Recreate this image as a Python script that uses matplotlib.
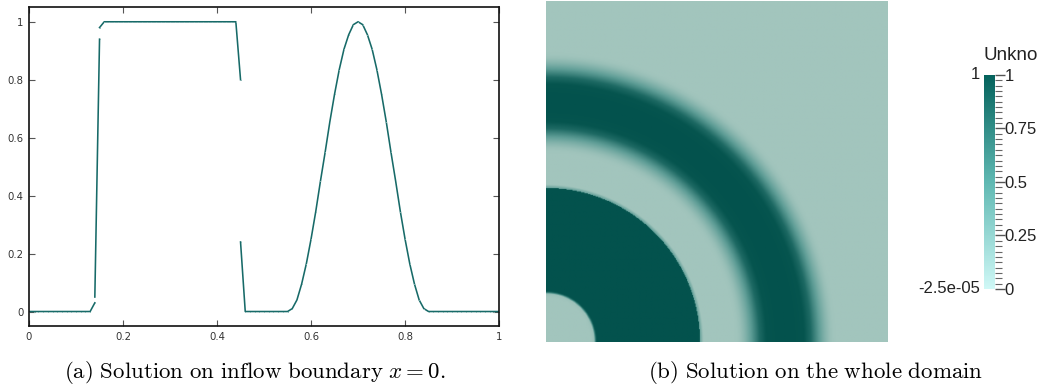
import numpy as np
import matplotlib
matplotlib.use("Agg")
import matplotlib.pyplot as plt
from matplotlib.colors import LinearSegmentedColormap, Normalize
from matplotlib.cm import ScalarMappable
from matplotlib.ticker import MultipleLocator

plt.rcParams["mathtext.fontset"] = "cm"

# Solution u(y) on the inflow boundary x = 0 (NaN separates discontinuous pieces)
y_coord = [0.00, 0.01, 0.02, 0.03, 0.04, 0.05, 0.06, 0.07, 0.08, 0.09, 0.10,
           0.11, 0.12, 0.13, 0.14, np.nan,
           0.14, 0.15, np.nan,
           0.15, 0.16, 0.17, 0.18, 0.19, 0.20, 0.21, 0.22, 0.23, 0.24, 0.25,
           0.26, 0.27, 0.28, 0.29, 0.30, 0.31, 0.32, 0.33, 0.34, 0.35, 0.36,
           0.37, 0.38, 0.39, 0.40, 0.41, 0.42, 0.43, 0.44, 0.45, np.nan,
           0.45, 0.46, 0.47, 0.48, 0.49, 0.50, 0.51, 0.52, 0.53, 0.54, 0.55,
           0.56, 0.57, 0.58, 0.59, 0.60, 0.61, 0.62, 0.63, 0.64, 0.65, 0.66,
           0.67, 0.68, 0.69, 0.70, 0.71, 0.72, 0.73, 0.74, 0.75, 0.76, 0.77,
           0.78, 0.79, 0.80, 0.81, 0.82, 0.83, 0.84, 0.85, 0.86, 0.87, 0.88,
           0.89, 0.90, 0.91, 0.92, 0.93, 0.94, 0.95, 0.96, 0.97, 0.98, 0.99,
           1.00]
u_vals = [0.0, 0.0, 0.0, 0.0, 0.0, 0.0, 0.0, 0.0, 0.0, 0.0, 0.0,
          0.0, 0.0, 0.0, 0.03, np.nan,
          0.05, 0.94, np.nan,
          0.98, 1.0, 1.0, 1.0, 1.0, 1.0, 1.0, 1.0, 1.0, 1.0, 1.0,
          1.0, 1.0, 1.0, 1.0, 1.0, 1.0, 1.0, 1.0, 1.0, 1.0, 1.0,
          1.0, 1.0, 1.0, 1.0, 1.0, 1.0, 1.0, 1.0, 0.80, np.nan,
          0.24, 0.0, 0.0, 0.0, 0.0, 0.0, 0.0, 0.0, 0.0, 0.0, 0.0,
          0.01, 0.04, 0.095, 0.165, 0.25, 0.345, 0.45, 0.55, 0.655, 0.75, 0.835,
          0.905, 0.955, 0.99, 1.0, 0.99, 0.955, 0.905, 0.835, 0.75, 0.655, 0.55,
          0.45, 0.345, 0.25, 0.165, 0.095, 0.04, 0.01, 0.0, 0.0, 0.0, 0.0,
          0.0, 0.0, 0.0, 0.0, 0.0, 0.0, 0.0, 0.0, 0.0, 0.0, 0.0,
          0.0]

x_ticks = [0, 0.2, 0.4, 0.6, 0.8, 1]
y_ticks = [0, 0.2, 0.4, 0.6, 0.8, 1]
tick_labels = ["0", "0.2", "0.4", "0.6", "0.8", "1"]
cbar_ticks = [0, 0.25, 0.5, 0.75, 1]
cbar_labels = ["0", "0.25", "0.5", "0.75", "1"]
range_min_label = "-2.5e-05"
range_max_label = "1"
field_name = "Unkno"

line_color = "#176a68"

fig = plt.figure(figsize=(10.48, 3.90), dpi=100)

# ---- (a) line plot on the boundary ----
ax = fig.add_axes([0.0277, 0.1641, 0.4485, 0.8172])
ax.plot(y_coord, u_vals, color=line_color, lw=1.15, marker=".", ms=1.5,
        mfc="#84b4b1", mec="none")
ax.set_xlim(0, 1)
ax.set_ylim(-0.05, 1.05)
ax.set_xticks(x_ticks)
ax.set_xticklabels(tick_labels)
ax.set_yticks(y_ticks)
ax.set_yticklabels(tick_labels)
ax.tick_params(direction="in", top=True, right=True, length=4, width=0.8,
               labelsize=7.3, labelcolor="#333333", color="#555555", pad=4)
for s in ax.spines.values():
    s.set_linewidth(1.2)
    s.set_color("#111111")

fig.text(0.243, 0.045,
         r"$\mathrm{(a)\ Solution\ on\ inflow\ boundary}\ x = 0.$",
         ha="center", va="center", fontsize=16.5)

# ---- (b) whole domain: radial field u(r), r = sqrt(x^2 + y^2) ----
valid = ~np.isnan(np.array(y_coord))
r_prof = np.array(y_coord)[valid]
u_prof = np.array(u_vals)[valid]
n = 400
gx, gy = np.meshgrid(np.linspace(0, 1, n), np.linspace(0, 1, n))
rr = np.sqrt(gx ** 2 + gy ** 2)
field = np.interp(rr, r_prof, u_prof, right=0.0)

img_cmap = LinearSegmentedColormap.from_list(
    "shaded", [(0.0, "#a2c5bd"), (0.25, "#5e9d96"), (0.5, "#1d6963"),
               (0.7, "#06554f"), (1.0, "#03524d")])
axi = fig.add_axes([0.521, 0.1231, 0.3254, 0.8744])
axi.imshow(field, origin="lower", extent=[0, 1, 0, 1], cmap=img_cmap,
           vmin=0, vmax=1, interpolation="bilinear", aspect="auto")
axi.set_axis_off()

fig.text(0.778, 0.045, r"$\mathrm{(b)\ Solution\ on\ the\ whole\ domain}$",
         ha="center", va="center", fontsize=16.5)

# ---- colour bar ----
bar_cmap = LinearSegmentedColormap.from_list("bar", ["#cff8f6", "#5fb8b2", "#04625c"])
cax = fig.add_axes([0.9389, 0.259, 0.0105, 0.549])
cb = fig.colorbar(ScalarMappable(norm=Normalize(0, 1), cmap=bar_cmap), cax=cax)
cb.outline.set_visible(False)
cb.set_ticks(cbar_ticks)
cb.set_ticklabels(cbar_labels)
cax.yaxis.set_minor_locator(MultipleLocator(0.025))
cax.tick_params(which="major", length=7, width=1.0, color="#555555",
                labelsize=12, pad=0)
cax.tick_params(which="minor", length=5, width=0.8, color="#666666")
for lab in cax.get_yticklabels():
    lab.set_family("Liberation Sans")
    lab.set_color("#222222")

fig.text(0.935, 0.808, range_max_label, ha="right", va="center",
         fontsize=12, family="Liberation Sans", color="#222222")
fig.text(0.935, 0.259, range_min_label, ha="right", va="center",
         fontsize=12, family="Liberation Sans", color="#222222")
fig.text(0.9385, 0.858, field_name, ha="left", va="center",
         fontsize=13.5, family="Liberation Sans", color="#222222")

fig.savefig("out.png", dpi=100)
